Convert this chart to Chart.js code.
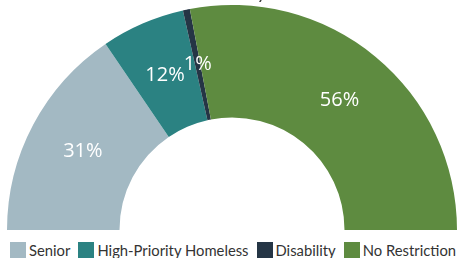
<!DOCTYPE html>
<html>
<head>
<meta charset="utf-8">
<script src="https://cdn.jsdelivr.net/npm/chart.js@4/dist/chart.umd.min.js"></script>
<style>
  html, body { margin: 0; padding: 0; background: #fff; overflow: hidden; }
  #wrap { position: absolute; left: 0; top: -19px; width: 458px; height: 249px; }
  #legend { position: absolute; left: 10px; top: 241px; display: flex; white-space: nowrap;
            font: 14.8px Lato, sans-serif; color: #333; line-height: 18px; }
  #legend .item { display: flex; align-items: center; margin-right: 8px; }
  #legend .box { width: 16px; height: 16px; margin-right: 3px; }
</style>
</head>
<body>
<div id="wrap"><canvas id="pie"></canvas></div>
<div id="legend"></div>
<script>
// categories and shares (%)
const labels = ["Senior", "High-Priority Homeless", "Disability", "No Restriction"];
const shares = [31, 12, 1, 56];
const colors = ["#a3b9c3", "#2b8282", "#253545", "#5e8b40"];
const titleText = "Affordable Units by Restriction";

// draws the % labels inside each slice
const sliceLabels = {
  id: "sliceLabels",
  afterDatasetsDraw(chart) {
    const ctx = chart.ctx;
    const meta = chart.getDatasetMeta(0);
    ctx.save();
    ctx.fillStyle = "#ffffff";
    ctx.font = "20px 'Open Sans'";
    ctx.textAlign = "center";
    ctx.textBaseline = "middle";
    meta.data.forEach((arc, i) => {
      const p = arc.tooltipPosition();
      ctx.fillText(shares[i] + "%", p.x, p.y);
    });
    ctx.restore();
  }
};

const chart = new Chart(document.getElementById("pie").getContext("2d"), {
  type: "doughnut",
  data: {
    labels: labels,
    datasets: [{
      data: shares,
      backgroundColor: colors,
      borderWidth: 0
    }]
  },
  options: {
    responsive: true,
    maintainAspectRatio: false,
    animation: false,
    rotation: -90,
    circumference: 180,
    cutout: "50%",
    layout: { padding: { left: 7, right: 1, top: 0, bottom: 0 } },
    plugins: {
      title: {
        display: true,
        text: titleText,
        color: "#444",
        font: { family: "Lato", size: 20, weight: "normal" },
        padding: { top: 0, bottom: 0 }
      },
      legend: { display: false },
      tooltip: { enabled: false }
    }
  },
  plugins: [sliceLabels]
});

// html legend built from the chart's own labels and colours
const legendEl = document.getElementById("legend");
chart.data.labels.forEach((name, i) => {
  const item = document.createElement("div");
  item.className = "item";
  const box = document.createElement("span");
  box.className = "box";
  box.style.background = chart.data.datasets[0].backgroundColor[i];
  item.appendChild(box);
  item.appendChild(document.createTextNode(name));
  legendEl.appendChild(item);
});
</script>
</body>
</html>
